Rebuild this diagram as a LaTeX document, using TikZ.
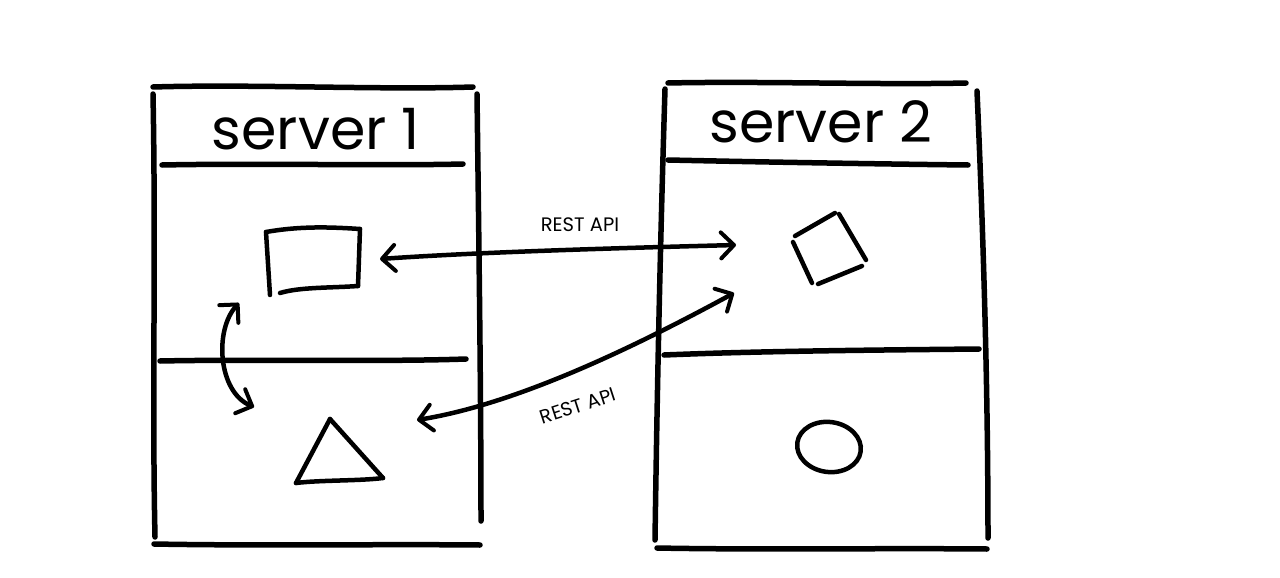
\documentclass[tikz,border=0pt]{standalone}
\usepackage{fontspec}
\setmainfont{Poppins}
\usetikzlibrary{arrows.meta}
\begin{document}
\begin{tikzpicture}[x=1pt,y=-1pt,
  ink/.style={line width=5.5pt,line cap=round,line join=round},
  shapeink/.style={line width=4.5pt,line cap=round,line join=round},
  barb/.tip={Straight Barb[length=13pt,width=26pt,line width=4pt,round]},
  conn/.style={line width=4.5pt,line cap=round,barb-barb},
  title/.style={font=\fontsize{57}{62}\selectfont,inner sep=0pt},
  lbl/.style={font=\fontsize{19.5}{22}\selectfont,inner sep=0pt}]
\useasboundingbox[fill=white] (0,0) rectangle (1280,578);

% ---------- server 1 frame ----------
\draw[ink] (153,87) .. controls (250,84) and (380,90) .. (473,87);
\draw[ink] (153,94) .. controls (156,250) and (152,400) .. (155,537);
\draw[ink] (477,94) .. controls (479,250) and (481,400) .. (481,521);
\draw[ink] (162,165) .. controls (260,163) and (380,166) .. (463,164);
\draw[ink] (160,361) .. controls (260,359) and (380,362) .. (466,359);
\draw[ink] (154,544) .. controls (260,546) and (380,544) .. (480,545);
\node[title] (t1) at (316,129) {server 1};

% ---------- server 2 frame ----------
\draw[ink] (668,83) .. controls (760,81) and (880,85) .. (966,83);
\draw[ink] (665,89) .. controls (660,250) and (657,400) .. (655,540);
\draw[ink] (977,91) .. controls (984,250) and (988,400) .. (988,538);
\draw[ink] (668,160) .. controls (760,162) and (880,164) .. (968,165);
\draw[ink] (664,355) .. controls (760,351) and (880,350) .. (979,349);
\draw[ink] (657,548) .. controls (760,550) and (880,548) .. (987,549);
\node[title] (t2) at (821,122) {server 2};

% ---------- shapes in server 1 ----------
% rectangle
\coordinate (ra) at (266,232);
\coordinate (rb) at (360,229);
\coordinate (rc) at (358,286);
\coordinate (rd) at (270,295);
\draw[shapeink] (ra) .. controls (300,226) and (330,227) .. (rb);
\draw[shapeink] (rb) -- (rc);
\draw[shapeink] (rc) .. controls (330,288) and (300,287) .. (280,293);
\draw[shapeink] (ra) -- (rd);
% triangle
\coordinate (ta) at (330,419);
\coordinate (tb) at (383,478);
\coordinate (tc) at (296,483);
\draw[shapeink] (ta) -- (tc);
\draw[shapeink] (ta) -- (tb);
\draw[shapeink] (tc) .. controls (320,480) and (360,481) .. (tb);

% ---------- shapes in server 2 ----------
\draw[shapeink] (795,236) -- (835,213);
\draw[shapeink] (839,214) -- (866,260);
\draw[shapeink] (862,266) -- (818,284);
\draw[shapeink] (793,242) -- (812,283);
\draw[shapeink,rotate around={-8:(829,447)}] (829,447) ellipse [x radius=32pt,y radius=25pt];

% ---------- connectors ----------
\coordinate (a1) at (380,259);
\coordinate (a2) at (736,245);
\draw[conn] (a1) .. controls (480,252) and (620,248) .. (a2);
\node[lbl] (l1) at (580,225) {REST API};

\coordinate (b1) at (734,293);
\coordinate (b2) at (417,420);
\draw[conn] (b1) .. controls (620,355) and (510,405) .. (b2);
\node[lbl,rotate=18] (l2) at (578,406) {REST API};

\coordinate (c1) at (239,303);
\coordinate (c2) at (254,407);
\draw[conn] (c1) .. controls (214,330) and (218,392) .. (c2);
\end{tikzpicture}
\end{document}
